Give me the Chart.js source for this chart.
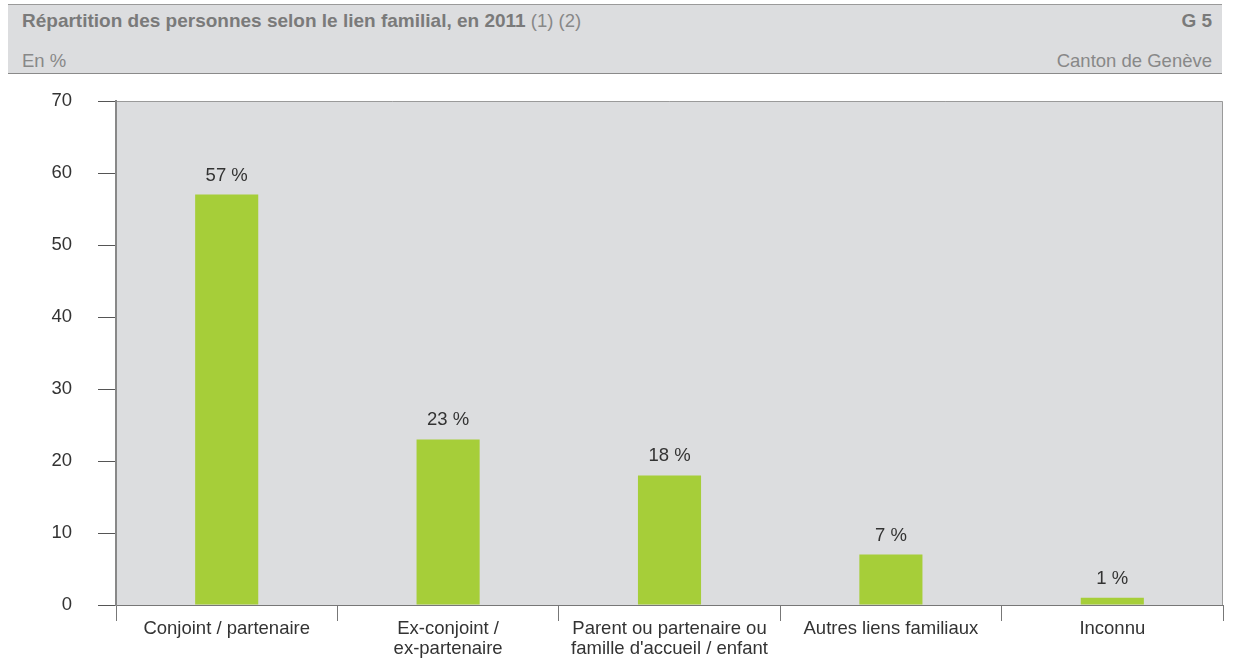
<!DOCTYPE html>
<html>
<head>
<meta charset="utf-8">
<script src="https://cdn.jsdelivr.net/npm/chart.js@4"></script>
<style>
    html, body { margin: 0; padding: 0; background: #fff; }
    body { width: 1235px; height: 659px; position: relative; overflow: hidden; font-family: "Liberation Sans", Arial, sans-serif; }
    .head {
        position: absolute; left: 8px; top: 4px; width: 1214px; height: 68px;
        background: #dcdddf; border-top: 1px solid #9a9a9a; border-bottom: 1px solid #8a8a8a;
        color: #888; font-size: 18.5px;
    }
    .head .row { position: absolute; left: 14px; right: 10px; }
    .head .r1 { top: 5px; }
    .head .r2 { top: 45px; }
    .head b { color: #7a7a7a; font-size: 19px; }
    .head .right { position: absolute; right: 0; top: 0; }
    #wrap { position: absolute; left: 0; top: 0; width: 1235px; height: 659px; }
</style>
</head>
<body>
<div class="head">
    <div class="row r1"><b>Répartition des personnes selon le lien familial, en 2011</b> (1) (2)<span class="right"><b>G 5</b></span></div>
    <div class="row r2">En %<span class="right">Canton de Genève</span></div>
</div>
<div id="wrap"><canvas id="liensChart"></canvas></div>
<script>
const categories = [
    'Conjoint / partenaire',
    ['Ex-conjoint /', 'ex-partenaire'],
    ['Parent ou partenaire ou', "famille d'accueil / enfant"],
    'Autres liens familiaux',
    'Inconnu'
];
const shares = [57, 23, 18, 7, 1];
const yTicks = [0, 10, 20, 30, 40, 50, 60, 70];

const FONT = '"Liberation Sans", Arial, sans-serif';

// grey plot background with a thin frame on top and right
const plotFrame = {
    id: 'plotFrame',
    beforeDraw(chart) {
        const { ctx, chartArea: a } = chart;
        ctx.save();
        ctx.fillStyle = '#dcdddf';
        ctx.fillRect(a.left, a.top, a.right - a.left, a.bottom - a.top);
        ctx.strokeStyle = '#9a9a9a';
        ctx.lineWidth = 1;
        ctx.beginPath();
        ctx.moveTo(a.left, a.top + 0.5);
        ctx.lineTo(a.right - 0.5, a.top + 0.5);
        ctx.lineTo(a.right - 0.5, a.bottom);
        ctx.stroke();
        ctx.restore();
    }
};

// "57 %" style labels above each bar
const valueLabels = {
    id: 'valueLabels',
    afterDatasetsDraw(chart) {
        const { ctx } = chart;
        const meta = chart.getDatasetMeta(0);
        ctx.save();
        ctx.font = '18.5px ' + FONT;
        ctx.fillStyle = '#333';
        ctx.textAlign = 'center';
        ctx.textBaseline = 'middle';
        meta.data.forEach((bar, i) => {
            ctx.fillText(shares[i] + ' %', bar.x, bar.y - 19);
        });
        ctx.restore();
    }
};

new Chart(document.getElementById('liensChart').getContext('2d'), {
    type: 'bar',
    data: {
        labels: categories,
        datasets: [{
            data: shares,
            backgroundColor: '#a6ce39',
            borderWidth: 0,
            categoryPercentage: 1,
            barPercentage: 0.285
        }]
    },
    options: {
        responsive: true,
        maintainAspectRatio: false,
        animation: false,
        layout: { padding: { top: 101, right: 12, left: 0, bottom: 0 } },
        plugins: {
            legend: { display: false },
            tooltip: { enabled: false }
        },
        scales: {
            x: {
                grid: { offset: true, drawOnChartArea: false, tickLength: 16, color: '#777', lineWidth: 1 },
                border: { color: '#777', width: 1 },
                ticks: {
                    color: '#333',
                    font: { size: 18.5, family: FONT, lineHeight: 1.08 },
                    maxRotation: 0,
                    autoSkip: false,
                    padding: -2
                },
                afterFit(scale) { scale.height = 54; }
            },
            y: {
                min: 0,
                max: 70,
                afterBuildTicks(scale) { scale.ticks = yTicks.map(v => ({ value: v })); },
                grid: { drawOnChartArea: false, tickLength: 18, color: '#555', lineWidth: 1 },
                border: { color: '#888', width: 2 },
                ticks: {
                    color: '#333',
                    padding: 26,
                    font: { size: 18.5, family: FONT }
                },
                afterFit(scale) { scale.width = 116; }
            }
        }
    },
    plugins: [plotFrame, valueLabels]
});
</script>
</body>
</html>
